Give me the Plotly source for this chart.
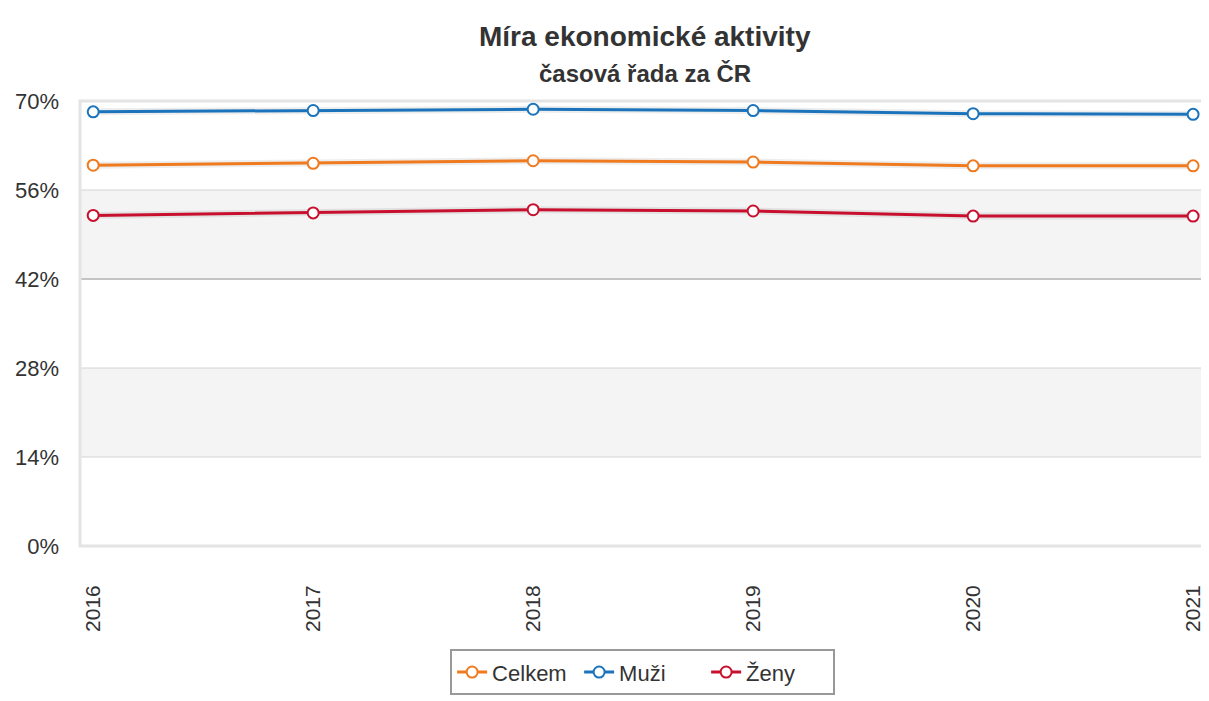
import plotly.graph_objects as go

# Míra ekonomické aktivity – časová řada za ČR
roky = [2016, 2017, 2018, 2019, 2020, 2021]
celkem = [59.9, 60.2, 60.6, 60.4, 59.8, 59.8]
muzi = [68.3, 68.5, 68.7, 68.5, 68.0, 67.9]
zeny = [52.0, 52.4, 52.9, 52.7, 51.9, 51.9]
y_ticks = [0, 14, 28, 42, 56, 70]

serie = [
    ("Celkem", celkem, "#ef7a1f"),
    ("Muži", muzi, "#1b74bb"),
    ("Ženy", zeny, "#c8102e"),
]

fig = go.Figure()
# jemný stín pod čarami
for nazev, hodnoty, barva in serie:
    fig.add_trace(go.Scatter(
        x=roky, y=hodnoty, mode="lines", showlegend=False, hoverinfo="skip",
        line=dict(color="rgba(0,0,0,0.07)", width=7),
    ))
for nazev, hodnoty, barva in serie:
    fig.add_trace(go.Scatter(
        x=roky, y=hodnoty, name=nazev, mode="lines+markers",
        line=dict(color=barva, width=3),
        marker=dict(size=11, color="white", line=dict(color=barva, width=2)),
    ))

# střídavé pruhy a mřížka
shapes = []
for i in range(len(y_ticks) - 1):
    if i % 2 == 1:
        shapes.append(dict(type="rect", xref="paper", yref="y", x0=0, x1=1,
                           y0=y_ticks[i], y1=y_ticks[i + 1],
                           fillcolor="#f4f4f4", line_width=0, layer="below"))
for t in y_ticks[1:-1]:
    shapes.append(dict(type="line", xref="paper", yref="y", x0=0, x1=1, y0=t, y1=t,
                       line=dict(color="#c4c4c4" if t == 42 else "#d4d4d4",
                                 width=2 if t == 42 else 1),
                       layer="below"))
shapes.append(dict(type="rect", xref="paper", yref="paper", x0=0, x1=1, y0=0, y1=1,
                   line=dict(color="#e4e4e4", width=3), layer="below"))

# stránka má okraj 8 px, proto je figura o tolik menší
fig.update_layout(
    width=1201, height=693,
    margin=dict(l=72, r=6, t=93, b=147),
    paper_bgcolor="white", plot_bgcolor="white",
    font=dict(family="Liberation Sans, Arial, sans-serif", color="#333333"),
    shapes=shapes,
    showlegend=True,
    legend=dict(
        orientation="h", x=0.501, xanchor="center", y=-0.232, yanchor="top",
        bordercolor="#999999", borderwidth=2, font=dict(size=22, color="#333333"),
        itemwidth=30, entrywidth=82,
    ),
    xaxis=dict(
        range=[2015.94, 2021.045], tickvals=roky, ticktext=[str(r) for r in roky],
        tickangle=-90, tickfont=dict(size=21, color="#333333"),
        showgrid=False, zeroline=False, showline=False, ticks="",
        ticklabelstandoff=34,
    ),
    yaxis=dict(
        range=[0, 70], tickvals=y_ticks, ticktext=[f"{t}%" for t in y_ticks],
        tickfont=dict(size=22, color="#333333"),
        showgrid=False, zeroline=False, showline=False, ticks="",
        ticklabelstandoff=20,
    ),
)

fig.add_annotation(text="<b>Míra ekonomické aktivity</b>", xref="paper", yref="paper",
                   x=0.503, y=1, yshift=65, xanchor="center", yanchor="middle",
                   showarrow=False, font=dict(size=28, color="#333333"))
fig.add_annotation(text="<b>časová řada za ČR</b>", xref="paper", yref="paper",
                   x=0.503, y=1, yshift=28, xanchor="center", yanchor="middle",
                   showarrow=False, font=dict(size=24, color="#333333"))

fig.write_html("out.html")
